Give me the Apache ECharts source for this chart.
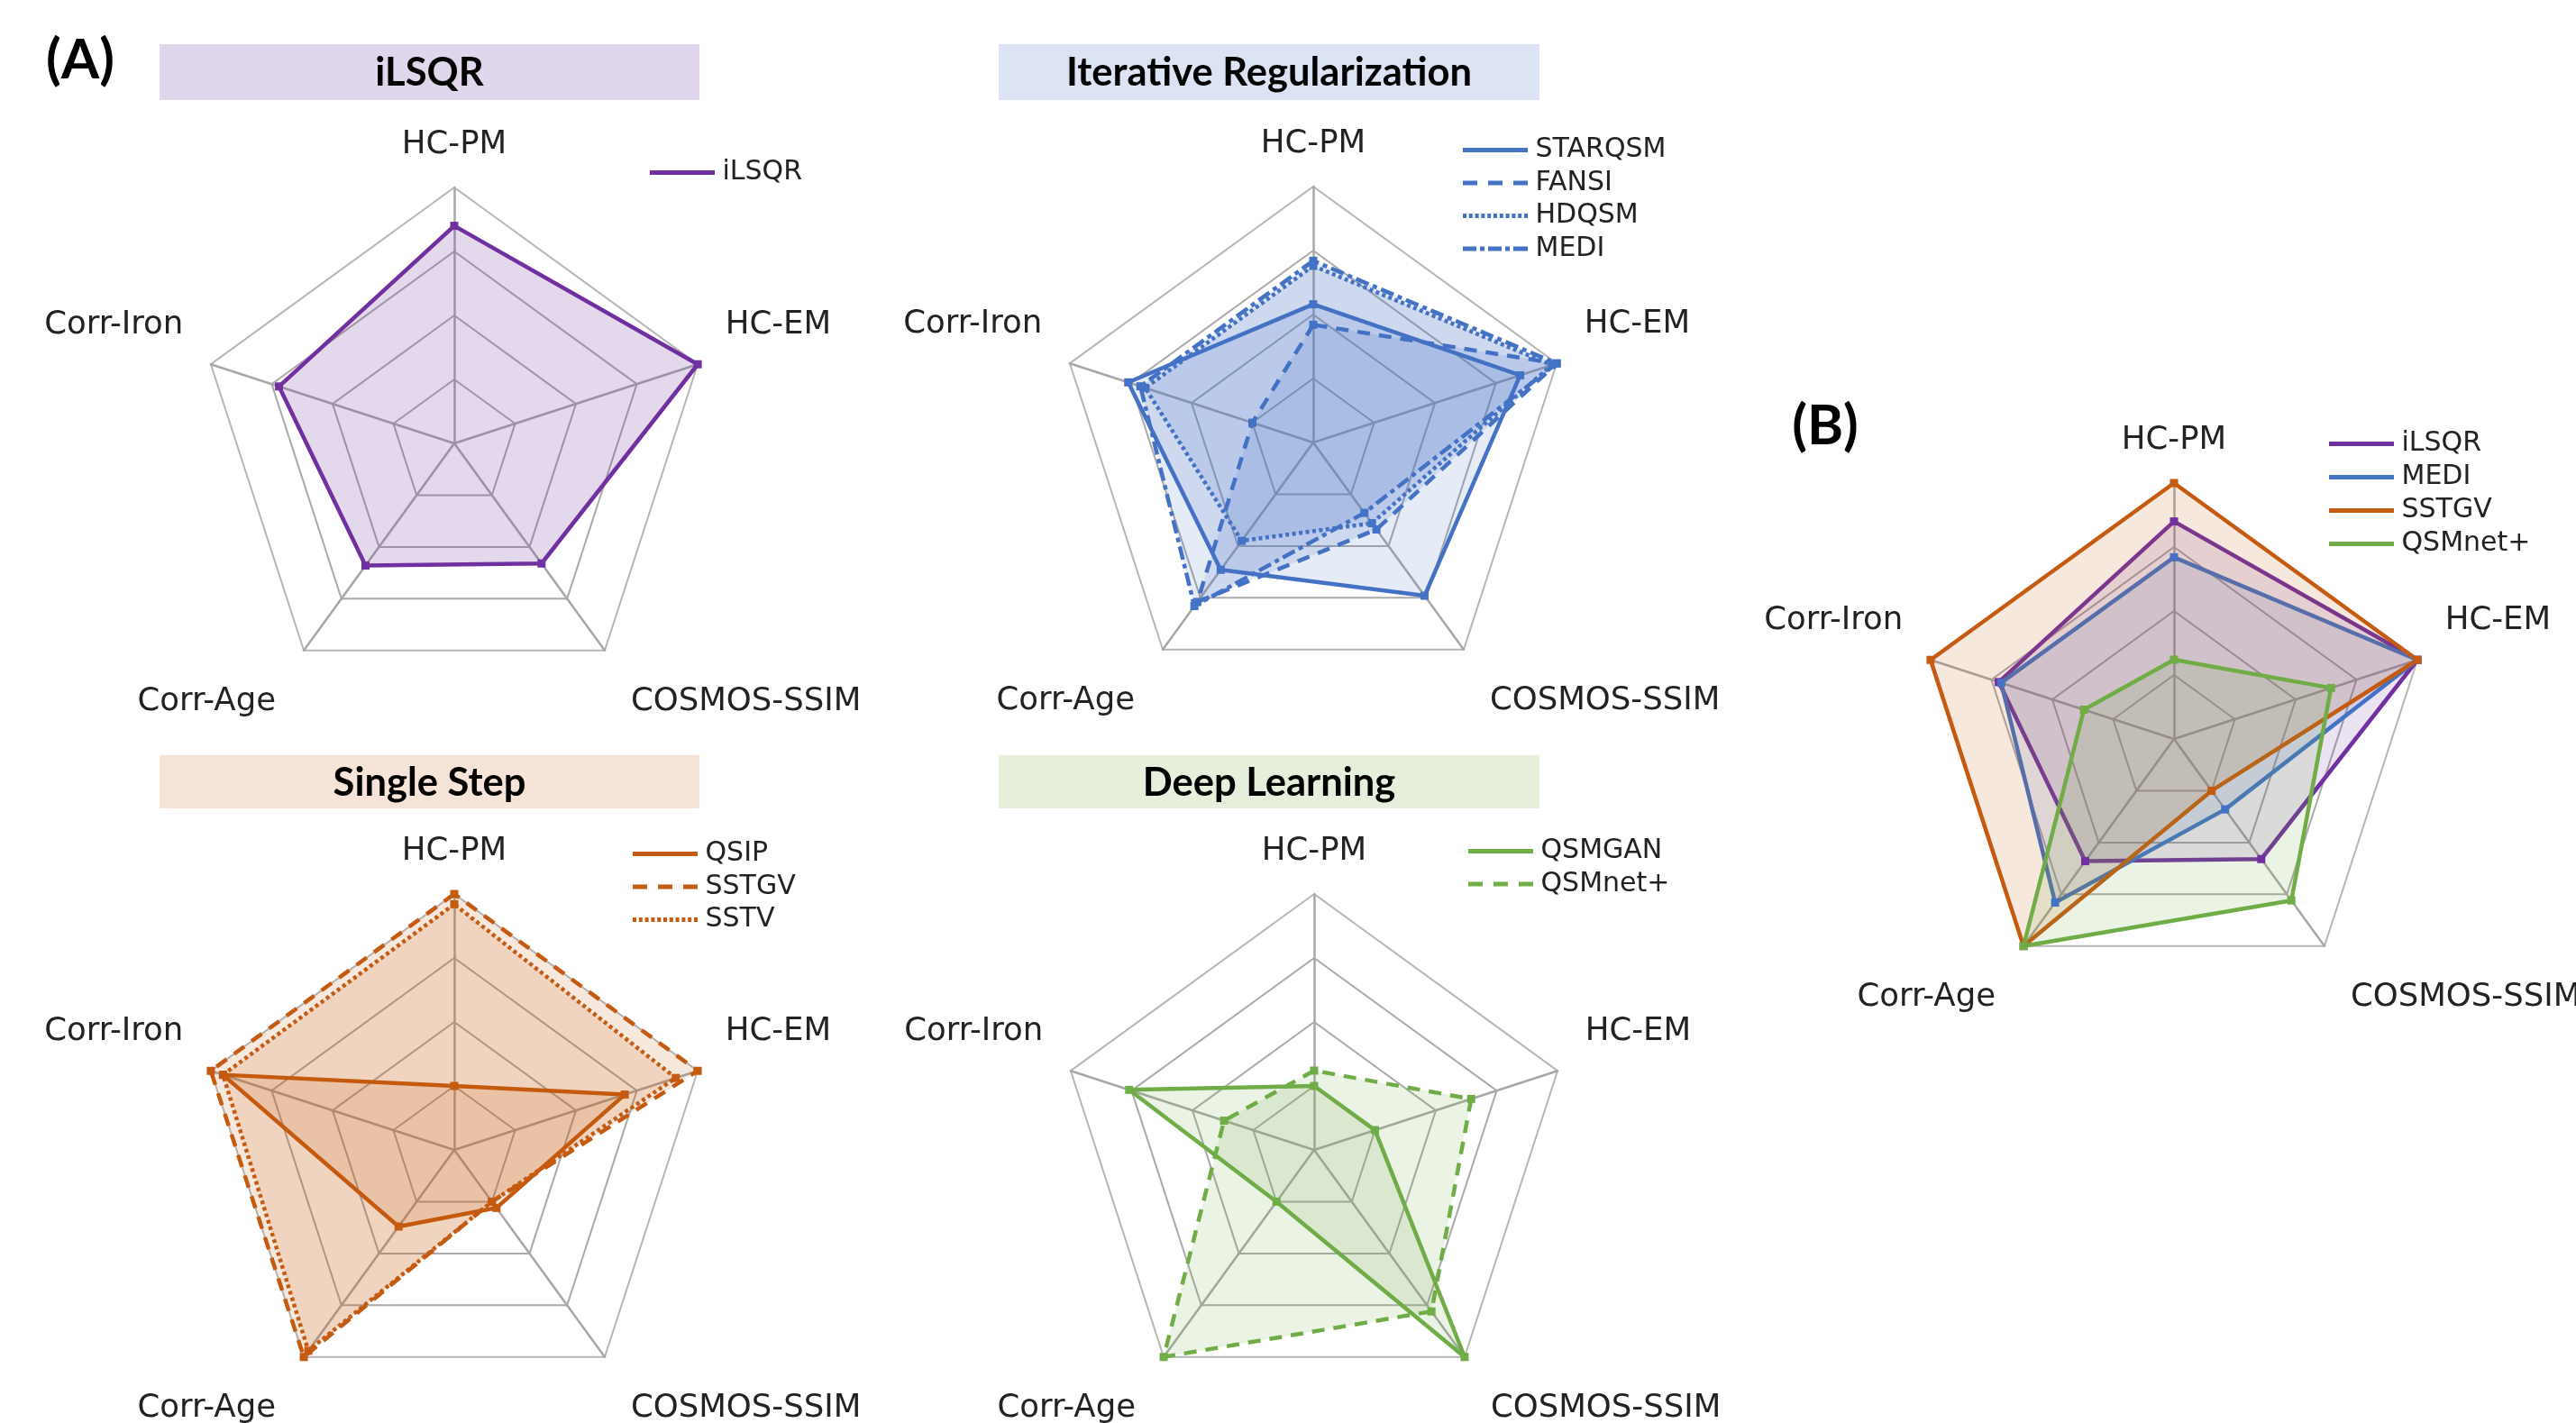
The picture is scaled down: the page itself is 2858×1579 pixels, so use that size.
<!DOCTYPE html>
<html><head><meta charset="utf-8">
<script src="https://cdn.jsdelivr.net/npm/echarts@6/dist/echarts.min.js"></script>
<style>html,body{margin:0;padding:0;background:#fff}#c{width:2858px;height:1579px}</style>
</head><body><div id="c"></div>
<script>
// Indicators in ECharts order (counter-clockwise from the top)
const categories = ['HC-PM', 'Corr-Iron', 'Corr-Age', 'COSMOS-SSIM', 'HC-EM'];

// values in the same order as categories (normalised 0..1)
const iLSQR   = [0.85, 0.72, 0.59, 0.58, 1.00];
const STARQSM = [0.54, 0.76, 0.615, 0.74, 0.85];
const FANSI   = [0.46, 0.25, 0.77, 0.42, 1.00];
const HDQSM   = [0.69, 0.69, 0.475, 0.39, 0.98];
const MEDI    = [0.71, 0.71, 0.79, 0.34, 1.00];
const QSIP    = [0.25, 0.95, 0.37, 0.28, 0.70];
const SSTGV   = [1.00, 1.00, 1.00, 0.25, 1.00];
const SSTV    = [0.96, 0.95, 0.97, 0.25, 0.91];
const QSMGAN  = [0.25, 0.76, 0.25, 1.00, 0.25];
const QSMnetP = [0.31, 0.37, 1.00, 0.78, 0.645];

const panelTitles = ['iLSQR', 'Iterative Regularization', 'Single Step', 'Deep Learning'];

// styles
const PURPLE = '#7030A0', BLUE = '#4472C4', ORANGE = '#C55A11', GREEN = '#70AD47';
const FONT = 'DejaVu Sans';
const R = 284;
const centers = [[504, 492], [1457, 491], [504, 1276], [1458, 1276], [2412, 820]];

const DASH = [14, 10], DOT = [4, 3.5], DASHDOT = [15, 5, 5, 5];
function dotsPath() { let s = 'path://'; for (let i = 0; i < 11; i++) { s += 'M' + (i * 6.8).toFixed(1) + ',0h4v5h-4z'; } return s; }
const ICON = {
  solid: 'path://M0,0h72v5h-72z',
  dash: 'path://M0,0h16v5h-16zM28,0h16v5h-16zM56,0h16v5h-16z',
  dot: dotsPath(),
  dashdot: 'path://M0,0h15v5h-15zM19,0h5v5h-5zM28,0h15v5h-15zM47,0h5v5h-5zM56,0h16v5h-16z'
};

const nameKey = { 'HC-PM': 'top', 'HC-EM': 'sr', 'Corr-Iron': 'sl', 'COSMOS-SSIM': 'br', 'Corr-Age': 'bl' };
const base = { fontFamily: FONT, fontSize: 35.5, color: '#222' };

function makeRadar(c) {
  return {
    center: c, radius: R, startAngle: 90, splitNumber: 4, shape: 'polygon',
    indicator: categories.map(n => ({ name: n, min: 0, max: 1 })),
    nameGap: 29,
    axisName: Object.assign({}, base, {
      formatter: (name) => '{' + nameKey[name] + '|' + name + '}',
      rich: {
        top: Object.assign({}, base),
        sr: Object.assign({ padding: [0, 0, 69, 3] }, base),
        sl: Object.assign({ padding: [0, 3, 69, 0] }, base),
        br: Object.assign({ padding: [67, 0, 0, 12] }, base),
        bl: Object.assign({ padding: [67, 14, 0, 0] }, base)
      }
    }),
    splitArea: { show: false },
    splitLine: { lineStyle: { color: ['#aaaaaa', '#aaaaaa', '#aaaaaa', '#aaaaaa', '#b6b6b6'], width: 2 } },
    axisLine: { lineStyle: { color: '#a8a8a8', width: 2.5 } },
    axisTick: { show: false }, axisLabel: { show: false }
  };
}

function mk(radarIndex, name, values, color, dash, alpha) {
  return {
    type: 'radar', radarIndex, name, symbol: 'rect', symbolSize: 9,
    data: [{ value: values, name }],
    lineStyle: { color, width: 4.5, type: dash },
    itemStyle: { color },
    areaStyle: { color, opacity: alpha },
    emphasis: { disabled: true }
  };
}

function mkLegend(left, top, items, gap) {
  return {
    orient: 'vertical', left, top, itemWidth: 73, itemHeight: 5, itemGap: gap || 5.5,
    selectedMode: false,
    data: items.map(([name, icon]) => ({ name, icon: ICON[icon] })),
    itemStyle: { borderWidth: 0 },
    textStyle: { fontFamily: FONT, fontSize: 30, color: '#222', lineHeight: 31, padding: [0, 0, 0, 3] }
  };
}

const A1 = 0.19, AM = 0.14;
const series = [
  mk(0, 'iLSQR', iLSQR, PURPLE, 'solid', A1),
  mk(1, 'STARQSM', STARQSM, BLUE, 'solid', AM),
  mk(1, 'FANSI', FANSI, BLUE, DASH, AM),
  mk(1, 'HDQSM', HDQSM, BLUE, DOT, AM),
  mk(1, 'MEDI', MEDI, BLUE, DASHDOT, AM),
  mk(2, 'QSIP', QSIP, ORANGE, 'solid', AM),
  mk(2, 'SSTGV', SSTGV, ORANGE, DASH, AM),
  mk(2, 'SSTV', SSTV, ORANGE, DOT, AM),
  mk(3, 'QSMGAN', QSMGAN, GREEN, 'solid', AM),
  mk(3, 'QSMnet+', QSMnetP, GREEN, DASH, AM),
  mk(4, 'iLSQR', iLSQR, PURPLE, 'solid', AM),
  mk(4, 'MEDI', MEDI, BLUE, 'solid', AM),
  mk(4, 'SSTGV', SSTGV, ORANGE, 'solid', AM),
  mk(4, 'QSMnet+', QSMnetP, GREEN, 'solid', AM)
];

const legend = [
  mkLegend(716, 171, [['iLSQR', 'solid']]),
  mkLegend(1618, 146, [['STARQSM', 'solid'], ['FANSI', 'dash'], ['HDQSM', 'dot'], ['MEDI', 'dashdot']]),
  mkLegend(697, 927, [['QSIP', 'solid'], ['SSTGV', 'dash'], ['SSTV', 'dot']]),
  mkLegend(1624, 924, [['QSMGAN', 'solid'], ['QSMnet+', 'dash']]),
  mkLegend(2579, 472, [['iLSQR', 'solid'], ['MEDI', 'solid'], ['SSTGV', 'solid'], ['QSMnet+', 'solid']], 6)
];

const boxes = [
  { x: 177, y: 49, w: 599, h: 62, fill: '#e0d7ec' },
  { x: 1108, y: 49, w: 600, h: 62, fill: '#dce3f2' },
  { x: 177, y: 838, w: 599, h: 59, fill: '#f7e4d8' },
  { x: 1108, y: 838, w: 600, h: 59, fill: '#e5efdc' }
];
const graphic = [];
boxes.forEach((b, i) => {
  graphic.push({ type: 'rect', shape: { x: b.x, y: b.y, width: b.w, height: b.h }, style: { fill: b.fill }, silent: true });
  graphic.push({ type: 'text', x: b.x + b.w / 2, y: b.y + b.h / 2 + 1, silent: true,
    style: { text: panelTitles[i], fontFamily: 'Lato', fontWeight: 'bold', fontSize: 43.5, fill: '#000',
      align: 'center', verticalAlign: 'middle', textAlign: 'center', textVerticalAlign: 'middle' } });
});
[['(A)', 89, 67], ['(B)', 2025, 473]].forEach(([t, x, y]) => {
  graphic.push({ type: 'text', x, y, silent: true,
    style: { text: t, fontFamily: 'Lato', fontWeight: 'bold', fontSize: 61, fill: '#000',
      align: 'center', verticalAlign: 'middle', textAlign: 'center', textVerticalAlign: 'middle' } });
});

const chart = echarts.init(document.getElementById('c'));
chart.setOption({
  backgroundColor: '#fff',
  animation: false,
  radar: centers.map(makeRadar),
  legend,
  series,
  graphic
});
</script></body></html>
